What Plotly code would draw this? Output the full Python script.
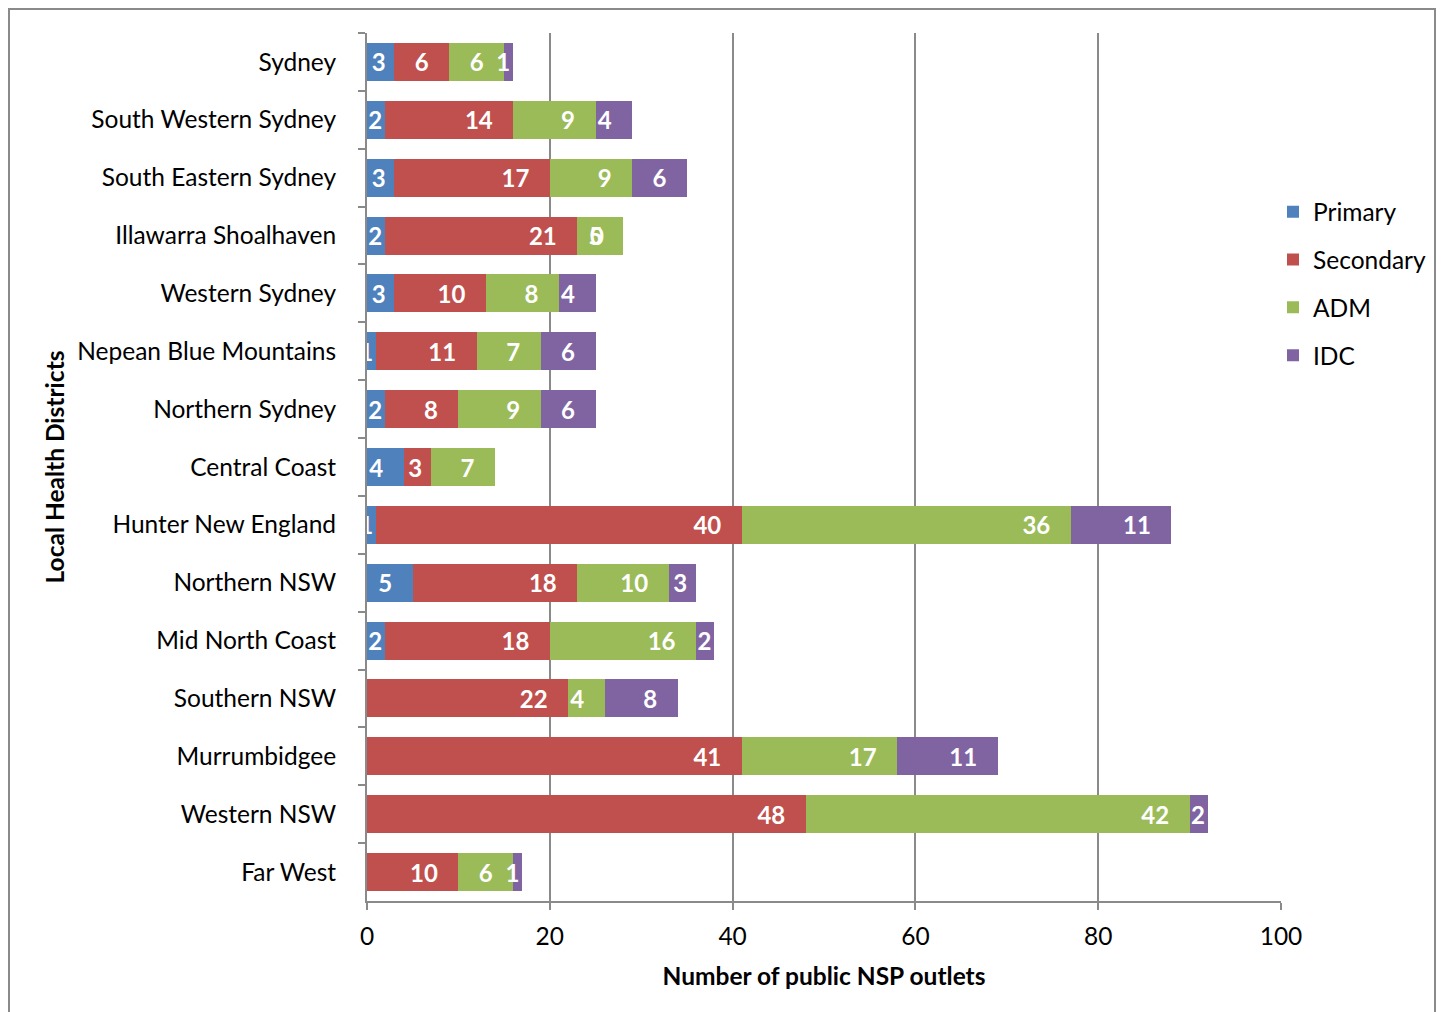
import plotly.graph_objects as go

districts = ["Sydney", "South Western Sydney", "South Eastern Sydney", "Illawarra Shoalhaven",
             "Western Sydney", "Nepean Blue Mountains", "Northern Sydney", "Central Coast",
             "Hunter New England", "Northern NSW", "Mid North Coast", "Southern NSW",
             "Murrumbidgee", "Western NSW", "Far West"]
primary = [3, 2, 3, 2, 3, 1, 2, 4, 1, 5, 2, None, None, None, None]
secondary = [6, 14, 17, 21, 10, 11, 8, 3, 40, 18, 18, 22, 41, 48, 10]
adm = [6, 9, 9, 5, 8, 7, 9, 7, 36, 10, 16, 4, 17, 42, 6]
idc = [1, 4, 6, 0, 4, 6, 6, None, 11, 3, 2, 8, 11, 2, 1]

series = [("Primary", primary, "#4F81BD"), ("Secondary", secondary, "#C0504D"),
          ("ADM", adm, "#9BBB59"), ("IDC", idc, "#8064A2")]

FONT = "Lato"
FS = 24.5
LFS = 24
NB = "\u00a0"

W, H = 1437, 1004
ML, MR, MT, MB = 359, 164, 25, 111
PW, PH = W - ML - MR, H - MT - MB


def label(v):
    # Excel "inside end" label; narrow segments get less end padding
    if v is None or v == 0:
        return ""
    pad = 0 if v <= 2 else (1 if v == 3 else 3)
    return f"{v}" + NB * pad


fig = go.Figure()
for name, vals, col in series:
    fig.add_trace(go.Bar(
        y=districts, x=vals, name=name, orientation="h",
        marker=dict(color=col, line=dict(width=0)),
        text=[label(v) for v in vals], textposition="inside", insidetextanchor="end", textangle=0,
        textfont=dict(family=FONT, size=LFS, color="white", weight="bold"),
        cliponaxis=False, legendgroup=name, hoverinfo="skip",
    ))

# zero-valued labelled segments (drawn by Excel as "0" at segment end)
for name, vals, col in series:
    for i, v in enumerate(vals):
        if v == 0:
            total = sum((s[1][i] or 0) for s in series)
            fig.add_annotation(x=total, y=districts[i], text="<b>0</b>" + NB * 3, showarrow=False,
                               xanchor="right", xshift=1,
                               font=dict(family=FONT, size=LFS, color="white"))

fig.update_layout(
    width=W, height=H,
    template="none",
    barmode="stack", bargap=0.344,
    margin=dict(l=ML, r=MR, t=MT, b=MB),
    paper_bgcolor="white", plot_bgcolor="white",
    font=dict(family=FONT, size=FS, color="black"),
    uniformtext=dict(minsize=LFS, mode="show"),
    showlegend=True,
    legend=dict(x=(1265 - ML) / PW, y=0.82, xanchor="left", yanchor="top",
                traceorder="grouped", tracegroupgap=13,
                font=dict(family=FONT, size=FS, color="black"),
                itemwidth=30, bgcolor="rgba(0,0,0,0)"),
    xaxis=dict(range=[0, 100], tickvals=[0, 20, 40, 60, 80, 100],
               showgrid=True, gridcolor="#8A8A8A", gridwidth=2,
               showline=True, linecolor="#8A8A8A", linewidth=2, mirror=False,
               ticks="outside", ticklen=7, tickcolor="#8A8A8A", tickwidth=2,
               ticklabelstandoff=6, zeroline=False,
               tickfont=dict(family=FONT, size=FS, color="black"),
               title=dict(text="<b>Number of public NSP outlets</b>", standoff=18,
                          font=dict(family=FONT, size=FS, color="black"))),
    yaxis=dict(autorange="reversed", type="category",
               showgrid=False, showline=True, linecolor="#8A8A8A", linewidth=2,
               ticks="outside", ticklen=7, tickcolor="#8A8A8A", tickwidth=2,
               tickson="boundaries", ticklabelstandoff=24,
               tickfont=dict(family=FONT, size=FS, color="black"),
               title=dict(text="<b>Local Health Districts</b>", standoff=6,
                          font=dict(family=FONT, size=FS, color="black"))),
)

# outer chart frame (figure-pixel positions converted to paper coordinates)
fx0, fx1, fy_top, fy_bot = 1, 1427, 1, H + 20
fig.add_shape(type="rect", xref="paper", yref="paper",
              x0=(fx0 - ML) / PW, x1=(fx1 - ML) / PW,
              y0=(H - MB - fy_bot) / PH, y1=(H - MB - fy_top) / PH,
              line=dict(color="#8A8A8A", width=2), fillcolor="rgba(0,0,0,0)", layer="below")

fig.write_html("out.html")
